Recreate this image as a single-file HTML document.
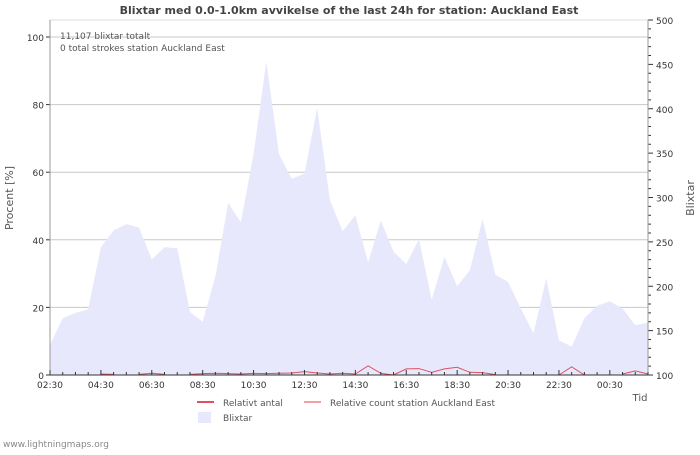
<!DOCTYPE html>
<html><head><meta charset="utf-8"><style>
body{margin:0;background:#fff;font-family:"Liberation Sans","DejaVu Sans",sans-serif}
svg text{font-family:"DejaVu Sans","Liberation Sans",sans-serif}
</style></head><body>
<svg id="c" width="700" height="450" viewBox="0 0 700 450" xmlns="http://www.w3.org/2000/svg">
<rect width="700" height="450" fill="#fff"/>
<text x="349" y="14" text-anchor="middle" font-size="11" font-weight="bold" fill="#444">Blixtar med 0.0-1.0km avvikelse of the last 24h for station: Auckland East</text>
<g id="grid"></g>
<g id="area"></g>
<g id="lines"></g>
<g id="axes"></g>
<text x="60" y="39" font-size="9" fill="#555">11,107 blixtar totalt</text>
<text x="60" y="51" font-size="9" fill="#555">0 total strokes station Auckland East</text>
<text transform="translate(13,198) rotate(-90)" text-anchor="middle" font-size="11" fill="#555">Procent   [%]</text>
<text transform="translate(694,198) rotate(-90)" text-anchor="middle" font-size="11" fill="#555">Blixtar</text>
<text x="640" y="401" text-anchor="middle" font-size="10" fill="#555">Tid</text>
<g>
<line x1="197" y1="402" x2="214" y2="402" stroke="#e05060" stroke-width="2"/>
<text x="223" y="406" font-size="9" fill="#555">Relativt antal</text>
<line x1="304" y1="402" x2="321" y2="402" stroke="#f4a0a0" stroke-width="2"/>
<text x="330" y="406" font-size="9" fill="#555">Relative count station Auckland East</text>
<rect x="198" y="412" width="13" height="11" fill="#e8e8fc"/>
<text x="223" y="421" font-size="9" fill="#555">Blixtar</text>
</g>
<text x="3" y="447" font-size="9" fill="#888">www.lightningmaps.org</text>
</svg>
<script>
const timeLabels=["02:30","04:30","06:30","08:30","10:30","12:30","14:30","16:30","18:30","20:30","22:30","00:30"];
const leftTicks=[0,20,40,60,80,100];
const rightTicks=[100,150,200,250,300,350,400,450,500];
const blixtar=[134,164,170,174,244,263,270,266,230,244,243,171,160,211,294,272,349,453,349,321,327,401,297,262,280,227,274,239,225,253,185,233,200,218,276,213,205,175,147,209,139,132,164,178,183,175,156,159];
const relativt=[null,null,null,null,0.3,0.2,null,0.2,0.5,0.2,null,0.2,0.4,0.5,0.4,0.3,0.5,0.4,0.5,0.6,1.0,0.6,0.3,0.5,0.3,2.7,0.5,0,1.8,1.9,0.8,1.8,2.3,0.8,0.7,0.1,null,null,null,null,0,2.4,0,null,null,0.3,1.2,0.3];
const NS="http://www.w3.org/2000/svg";
const X0=50,X1=648,Y0=375,Y1=20;
const n=blixtar.length;
const xs=i=>X0+i*(X1-X0)/(n-1);
const yL=v=>Y0-(v/100)*(Y0-37);
const yR=v=>Y0-((v-100)/400)*(Y0-Y1);
function mk(t,a,p){const e=document.createElementNS(NS,t);for(const k in a)e.setAttribute(k,a[k]);p.appendChild(e);return e;}
const grid=document.getElementById('grid'),area=document.getElementById('area'),lines=document.getElementById('lines'),axes=document.getElementById('axes');
mk('rect',{x:X0,y:Y1,width:X1-X0,height:Y0-Y1,fill:'none',stroke:'#ddd'},grid);
leftTicks.forEach(v=>{
 if(v>0){const g=mk('line',{x1:X0,x2:X1,y1:yL(v),y2:yL(v),stroke:'#c8c8c8'},grid);
 
 }
 mk('line',{x1:X0-4,x2:X0,y1:yL(v),y2:yL(v),stroke:'#333'},axes);
 const t=mk('text',{x:X0-6,y:yL(v)+4,'text-anchor':'end','font-size':9,fill:'#333'},axes);t.textContent=v;
 
 
});
for(let v=100;v<=500;v+=10){const y=yR(v);mk('line',{x1:X1,x2:X1+(v%50===0?5:3),y1:y,y2:y,stroke:'#333'},axes);}
rightTicks.forEach(v=>{const t=mk('text',{x:X1+8,y:yR(v)+4,'font-size':9,fill:'#333'},axes);t.textContent=v;
 
 });
mk('line',{x1:X0,x2:X0,y1:Y1,y2:Y0,stroke:'#999'},axes);
mk('line',{x1:X1,x2:X1,y1:Y1,y2:Y0,stroke:'#999'},axes);
mk('line',{x1:X0,x2:X1,y1:Y0,y2:Y0,stroke:'#333'},axes);
for(let i=0;i<n;i++){const x=xs(i);mk('line',{x1:x,x2:x,y1:Y0,y2:Y0-(i%4===0?5:3),stroke:'#333'},axes);}
timeLabels.forEach((l,k)=>{const t=mk('text',{x:xs(k*4),y:Y0+13,'text-anchor':'middle','font-size':9,fill:'#333'},axes);t.textContent=l;
 
 });
let d='M'+xs(0)+','+Y0;
blixtar.forEach((v,i)=>{d+=' L'+xs(i)+','+yR(v);});
d+=' L'+xs(n-1)+','+Y0+' Z';
const a=mk('path',{d:d,fill:'#e8e8fc'},area);


let seg='';
relativt.forEach((v,i)=>{if(v===null){return;}const prev=i>0?relativt[i-1]:null;seg+=(prev===null?' M':' L')+xs(i)+','+yL(v);});
const l=mk('path',{d:seg,fill:'none',stroke:'#e05060','stroke-width':1},lines);


</script>
</body></html>
